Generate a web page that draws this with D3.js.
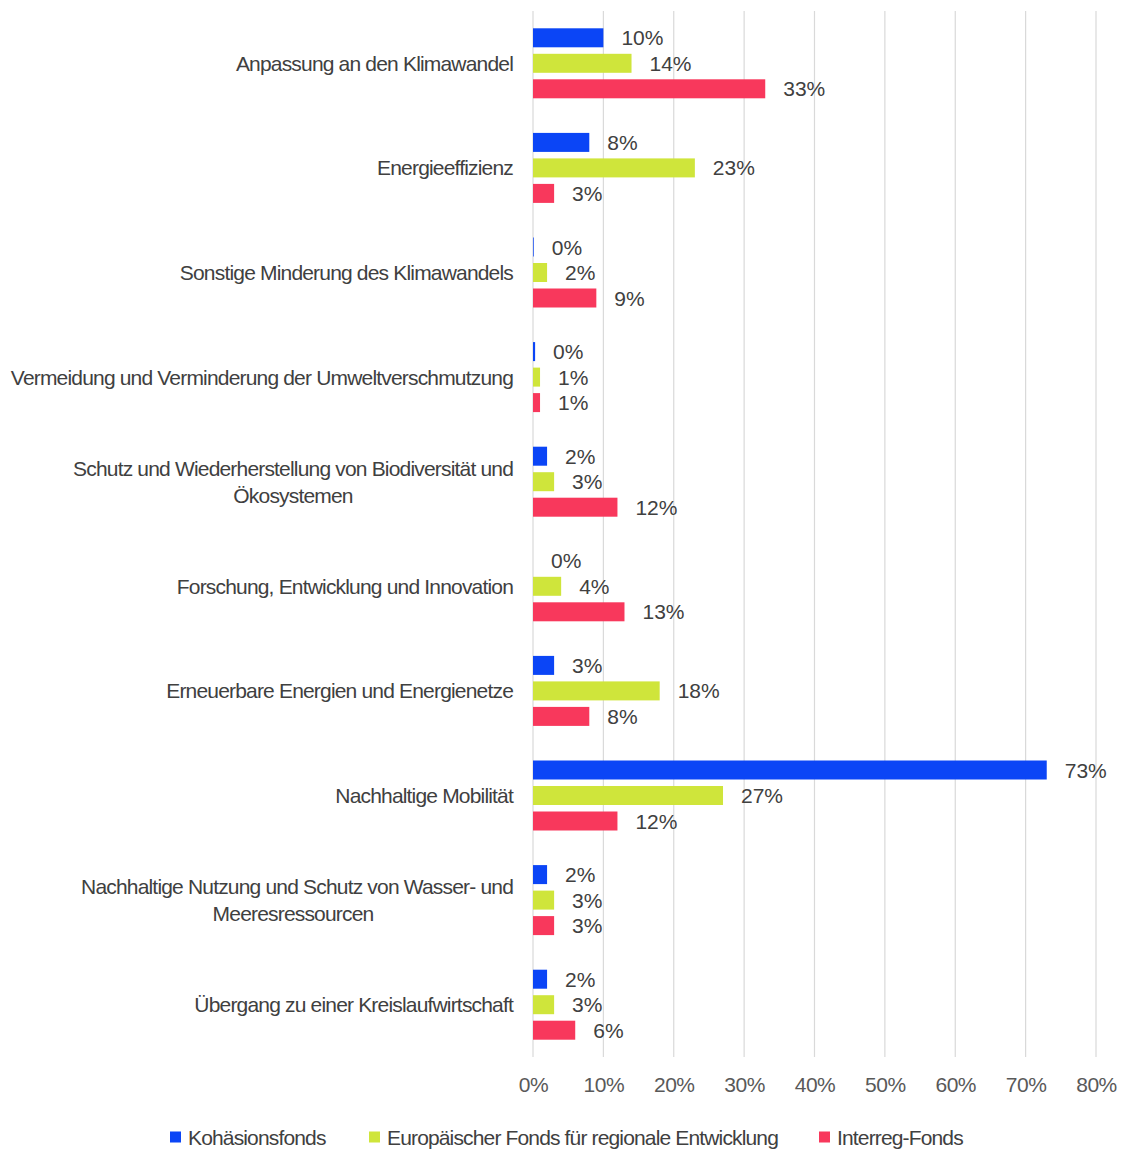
<!DOCTYPE html>
<html>
<head>
<meta charset="utf-8">
<script src="https://cdn.jsdelivr.net/npm/d3@7"></script>
<style>
  html, body { margin: 0; padding: 0; background: #fff; }
  svg { display: block; font-family: "Liberation Sans", Arial, sans-serif; }
</style>
</head>
<body>
<svg id="chart" width="1126" height="1149"></svg>
<script>
// Themen (each entry is a list of label lines)
const categories = [
  ["Anpassung an den Klimawandel"],
  ["Energieeffizienz"],
  ["Sonstige Minderung des Klimawandels"],
  ["Vermeidung und Verminderung der Umweltverschmutzung"],
  ["Schutz und Wiederherstellung von Biodiversität und", "Ökosystemen"],
  ["Forschung, Entwicklung und Innovation"],
  ["Erneuerbare Energien und Energienetze"],
  ["Nachhaltige Mobilität"],
  ["Nachhaltige Nutzung und Schutz von Wasser- und", "Meeresressourcen"],
  ["Übergang zu einer Kreislaufwirtschaft"]
];

const seriesNames = [
  "Kohäsionsfonds",
  "Europäischer Fonds für regionale Entwicklung",
  "Interreg-Fonds"
];
const seriesColors = ["#0b45f6", "#cfe53b", "#f8385c"];

// Anteile in Prozent, one array per fund, in category order
const kohaesion = [10, 8, 0.1, 0.3, 2, 0, 3, 73, 2, 2];
const efre      = [14, 23, 2, 1, 3, 4, 18, 27, 3, 3];
const interreg  = [33, 3, 9, 1, 12, 13, 8, 12, 3, 6];
const seriesValues = [kohaesion, efre, interreg];

const xTicks = [0, 10, 20, 30, 40, 50, 60, 70, 80];

const svg = d3.select("#chart");
const plot = { left: 533, right: 1096, top: 11, bottom: 1057 };

const x = d3.scaleLinear().domain([0, 80]).range([plot.left, plot.right]);
const catKeys = categories.map((c, i) => i);
const y0 = d3.scaleBand().domain(catKeys).range([plot.top, plot.bottom]);
const groupSpan = 76.5;
const y1 = d3.scaleBand().domain(d3.range(seriesNames.length))
  .range([0, groupSpan]).paddingInner(0.255).paddingOuter(0.1275);

const pct = v => Math.round(v) + "%";

// Vertical gridlines
svg.append("g")
  .selectAll("line")
  .data(xTicks)
  .join("line")
  .attr("x1", d => x(d)).attr("x2", d => x(d))
  .attr("y1", plot.top).attr("y2", plot.bottom)
  .attr("stroke", "#d9d9d9").attr("stroke-width", 1.2);

// X axis tick labels
const xAxis = d3.axisBottom(x).tickValues(xTicks).tickFormat(d => d + "%").tickSize(0).tickPadding(20);
const gx = svg.append("g").attr("transform", `translate(0,${plot.bottom})`).call(xAxis);
gx.select(".domain").remove();
gx.selectAll("text")
  .attr("font-size", 21).attr("fill", "#595959")
  .attr("font-family", "Liberation Sans, Arial, sans-serif")
  .attr("letter-spacing", "-0.5px");

// Bars and value labels
const groups = svg.append("g").selectAll("g")
  .data(catKeys)
  .join("g")
  .attr("transform", i => `translate(0,${y0(i) + y0.bandwidth() / 2 - groupSpan / 2})`);

groups.selectAll("rect")
  .data(i => seriesValues.map((vals, s) => ({ s, v: vals[i] })))
  .join("rect")
  .attr("x", x(0))
  .attr("y", d => y1(d.s))
  .attr("width", d => x(d.v) - x(0))
  .attr("height", y1.bandwidth())
  .attr("fill", d => seriesColors[d.s]);

groups.selectAll("text.val")
  .data(i => seriesValues.map((vals, s) => ({ s, v: vals[i] })))
  .join("text")
  .attr("class", "val")
  .attr("x", d => x(d.v) + 18)
  .attr("y", d => y1(d.s) + y1.bandwidth() / 2)
  .attr("dy", "0.36em")
  .attr("font-size", 21)
  .attr("letter-spacing", "0px")
  .attr("fill", "#404040")
  .text(d => pct(d.v));

// Category labels
const catLabels = svg.append("g").selectAll("text")
  .data(catKeys)
  .join("text")
  .attr("text-anchor", "end")
  .attr("font-size", 21)
  .attr("letter-spacing", "-0.82px")
  .attr("fill", "#404040")
  .attr("transform", i => `translate(513,${y0(i) + y0.bandwidth() / 2})`);

catLabels.each(function (i) {
  const lines = categories[i];
  const t = d3.select(this);
  const lh = 27;
  lines.forEach((line, k) => {
    t.append("tspan")
      .attr("x", k === 0 ? 0 : -(513 - 293))
      .attr("text-anchor", k === 0 ? "end" : "middle")
      .attr("y", (k - (lines.length - 1) / 2) * lh)
      .attr("dy", "0.36em")
      .text(line);
  });
});

// Legend
const legendX = [170, 369, 819];
const legend = svg.append("g").selectAll("g")
  .data(seriesNames)
  .join("g")
  .attr("transform", (d, i) => `translate(${legendX[i]},1137)`);
legend.append("rect")
  .attr("x", 0).attr("y", -5.5).attr("width", 11).attr("height", 11)
  .attr("fill", (d, i) => seriesColors[i]);
legend.append("text")
  .attr("x", 18).attr("dy", "0.36em")
  .attr("font-size", 21).attr("letter-spacing", "-0.85px")
  .attr("fill", "#404040")
  .text(d => d);
</script>
</body>
</html>
